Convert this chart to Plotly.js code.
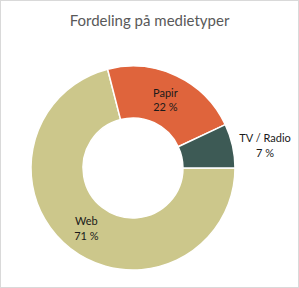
<!DOCTYPE html>
<html><head><meta charset="utf-8">
<script src="https://cdn.plot.ly/plotly-3.0.1.min.js"></script>
<style>html,body{margin:0;padding:0;background:#fff}#c{width:299px;height:288px;box-sizing:border-box;border:1px solid #d9d9d9}</style>
</head><body><div id="c"></div>
<script>
const categories = ['Web', 'Papir', 'TV / Radio'];
const values = [71, 22, 7];
const colors = ['#CCC78B', '#DF643C', '#3D5A55'];
const positions = ['inside', 'inside', 'outside'];
const texts = values.map(v => v + ' %');

const trace = {
  type: 'pie',
  labels: categories,
  values: values,
  text: texts,
  textinfo: 'label+text',
  textposition: positions,
  insidetextorientation: 'horizontal',
  hole: 0.49,
  sort: false,
  direction: 'clockwise',
  rotation: 90,
  marker: {colors: colors, line: {color: '#ffffff', width: 1.5}},
  textfont: {family: 'Lato, sans-serif', size: 11, color: '#1a1a1a'},
  insidetextfont: {family: 'Lato, sans-serif', size: 11, color: '#1a1a1a'},
  outsidetextfont: {family: 'Lato, sans-serif', size: 11, color: '#1a1a1a'},
  domain: {x: [30/297, 234/297], y: [17/286, 221/286]},
  showlegend: false,
  automargin: false
};
const layout = {
  width: 297, height: 286,
  margin: {l: 0, r: 0, t: 0, b: 0},
  paper_bgcolor: '#fff',
  title: {text: 'Fordeling på medietyper', font: {family: 'Lato, sans-serif', size: 15, color: '#595959'}, x: 0.5, xanchor: 'center', y: 0.93, yanchor: 'middle'},
  showlegend: false
};
Plotly.newPlot('c', [trace], layout, {displayModeBar: false, staticPlot: true});
</script></body></html>
